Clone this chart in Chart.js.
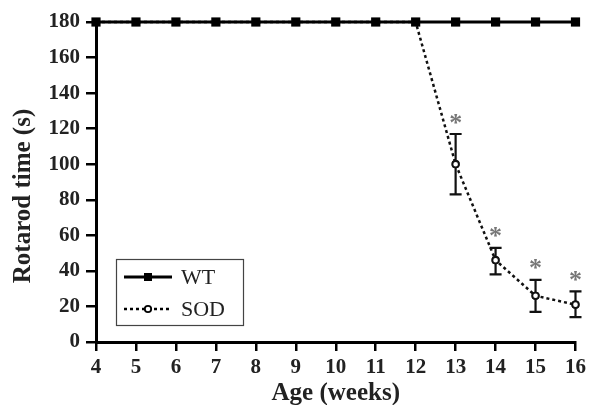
<!DOCTYPE html>
<html><head><meta charset="utf-8">
<script src="https://cdn.jsdelivr.net/npm/chart.js@4"></script>
<style>html,body{margin:0;padding:0;background:#fff}#wrap{width:590px;height:405px}</style>
</head><body><div id="wrap"><canvas id="c" width="590" height="405"></canvas></div>
<script>
const weeks = [4,5,6,7,8,9,10,11,12,13,14,15,16];
const wtValues = [180,180,180,180,180,180,180,180,180,180,180,180,180];
const sodValues = [180,180,180,180,180,180,180,180,180,100,46,26,21];
const sodErrUpper = [null,null,null,null,null,null,null,null,null,117,53,35,28.5];
const sodErrLower = [null,null,null,null,null,null,null,null,null,83,38,17,14];
const sigMarks = [null,null,null,null,null,null,null,null,null,'*','*','*','*'];
const yTicks = [0,20,40,60,80,100,120,140,160,180];
const seriesNames = ['WT','SOD'];
const yTitle = 'Rotarod time (s)';
const xTitle = 'Age (weeks)';

const FONT = '"Liberation Serif", "Times New Roman", serif';

const extras = {
  id:'extras',
  afterDatasetsDraw(chart){
    const ctx = chart.ctx, xs = chart.scales.x, ys = chart.scales.y;
    ctx.save();
    // error bars
    ctx.strokeStyle = '#111'; ctx.lineWidth = 2.2;
    weeks.forEach((w,i)=>{
      if (sodErrUpper[i]==null) return;
      const x = xs.getPixelForValue(w);
      const yu = ys.getPixelForValue(sodErrUpper[i]);
      const yl = ys.getPixelForValue(sodErrLower[i]);
      ctx.beginPath();
      ctx.moveTo(x,yu); ctx.lineTo(x,yl);
      ctx.moveTo(x-6,yu); ctx.lineTo(x+6,yu);
      ctx.moveTo(x-6,yl); ctx.lineTo(x+6,yl);
      ctx.stroke();
    });
    // redraw SOD markers on top
    weeks.forEach((w,i)=>{
      if (sodErrUpper[i]==null) return;
      const x = xs.getPixelForValue(w), y = ys.getPixelForValue(sodValues[i]);
      ctx.beginPath(); ctx.arc(x,y,3.2,0,Math.PI*2);
      ctx.fillStyle='#fff'; ctx.fill(); ctx.lineWidth=1.8; ctx.strokeStyle='#111'; ctx.stroke();
    });
    // asterisks
    ctx.fillStyle = '#777';
    ctx.font = 'bold 26px ' + FONT;
    ctx.textAlign = 'center'; ctx.textBaseline = 'middle';
    weeks.forEach((w,i)=>{
      if (!sigMarks[i]) return;
      const x = xs.getPixelForValue(w);
      const yu = ys.getPixelForValue(sodErrUpper[i]);
      ctx.fillText(sigMarks[i], x, yu - 10);
    });
    // y title
    ctx.save();
    ctx.translate(24, 196); ctx.rotate(-Math.PI/2);
    ctx.fillStyle = '#222'; ctx.font = 'bold 25px ' + FONT;
    ctx.textAlign='center'; ctx.textBaseline='middle';
    ctx.fillText(yTitle, 0, 0);
    ctx.restore();
    // legend
    const lx = 116, ly = 259, lw = 127, lh = 66;
    ctx.lineWidth = 1.2; ctx.strokeStyle = '#444';
    ctx.strokeRect(lx+0.5, ly+0.5, lw, lh);
    ctx.font = '22px ' + FONT; ctx.textAlign='left'; ctx.textBaseline='middle';
    // WT
    ctx.strokeStyle='#000'; ctx.lineWidth=3; ctx.setLineDash([]);
    ctx.beginPath(); ctx.moveTo(124,277); ctx.lineTo(172,277); ctx.stroke();
    ctx.fillStyle='#000'; ctx.fillRect(144,273,8,8);
    ctx.fillStyle='#222'; ctx.fillText(seriesNames[0], 181, 278);
    // SOD
    ctx.lineWidth=2.5; ctx.setLineDash([3,3]);
    ctx.beginPath(); ctx.moveTo(124,309); ctx.lineTo(172,309); ctx.stroke();
    ctx.setLineDash([]);
    ctx.beginPath(); ctx.arc(148,309,3.2,0,Math.PI*2); ctx.fillStyle='#fff'; ctx.fill(); ctx.lineWidth=1.8; ctx.stroke();
    ctx.fillStyle='#222'; ctx.fillText(seriesNames[1], 181, 310);
    ctx.restore();
  }
};

new Chart(document.getElementById('c'), {
  type:'line',
  data:{
    datasets:[
      {label:seriesNames[0], data:weeks.map((w,i)=>({x:w,y:wtValues[i]})),
       borderColor:'#000', borderWidth:3, pointStyle:'rect', pointRadius:6.5,
       pointBackgroundColor:'#000', pointBorderColor:'#000', pointBorderWidth:0,
       tension:0, clip:false},
      {label:seriesNames[1], data:weeks.map((w,i)=>({x:w,y:sodValues[i]})),
       borderColor:'#111', borderWidth:2.5, borderDash:[3,3], pointStyle:'circle',
       pointRadius:(c)=> sodErrUpper[c.dataIndex]==null ? 0 : 3.2,
       pointBackgroundColor:'#fff', pointBorderColor:'#111', pointBorderWidth:1.8,
       tension:0, clip:false}
    ]
  },
  options:{
    responsive:false, animation:false,
    layout:{padding:{top:22,right:14,left:0,bottom:0}},
    plugins:{legend:{display:false}, tooltip:{enabled:false}},
    scales:{
      x:{type:'linear', min:4, max:16,
        afterFit(s){ s.height = 63; },
        ticks:{stepSize:1, color:'#222', font:{family:FONT, size:21, weight:'bold'}, padding:4, maxRotation:0},
        grid:{drawOnChartArea:false, drawTicks:true, tickLength:9, lineWidth:2.5, color:'#000'},
        border:{display:true, width:3, color:'#000'},
        title:{display:true, text:xTitle, color:'#222', font:{family:FONT, size:25, weight:'bold'}, padding:{top:0,bottom:-4}}
      },
      y:{min:0, max:180,
        afterFit(s){ s.width = 96; },
        afterBuildTicks(s){ s.ticks = yTicks.map(v=>({value:v})); },
        ticks:{color:'#222', font:{family:FONT, size:21, weight:'bold'}, padding:6},
        grid:{drawOnChartArea:false, drawTicks:true, tickLength:10, lineWidth:2.5, color:'#000'},
        border:{display:true, width:3, color:'#000'},
        title:{display:false}
      }
    }
  },
  plugins:[extras]
});
</script></body></html>
